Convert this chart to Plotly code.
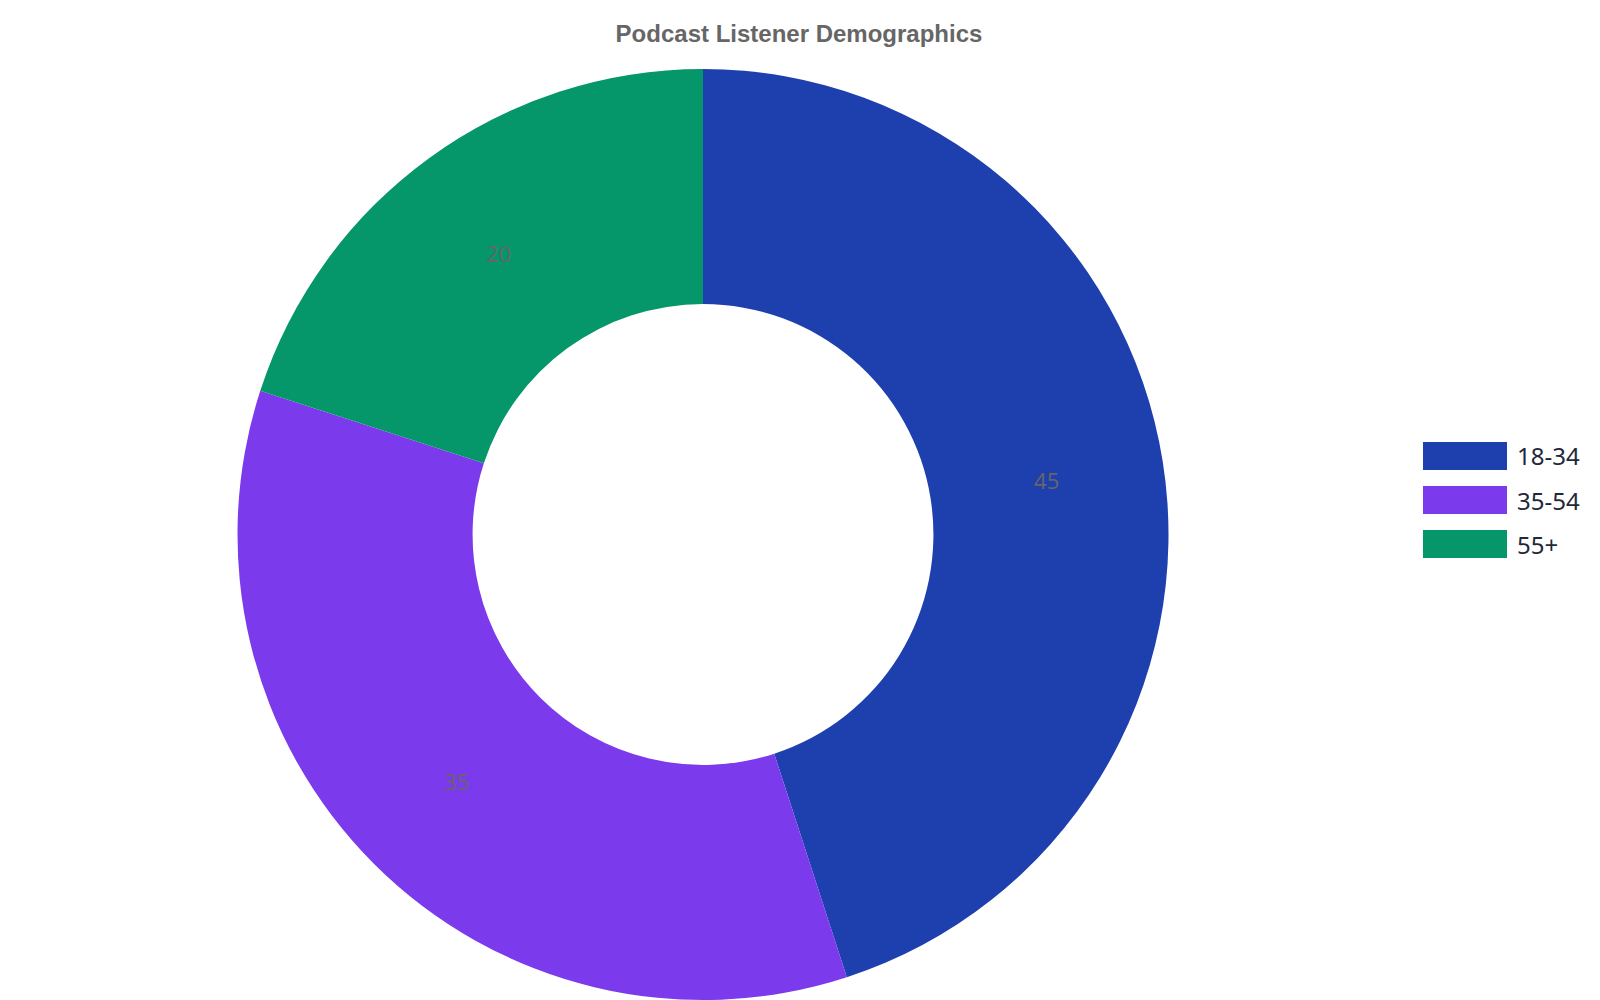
import plotly.graph_objects as go

# podcast listeners by age group (share, %)
age_groups = ["18-34", "35-54", "55+"]
listeners = [45, 35, 20]
colors = ["#1e40af", "#7c3aed", "#059669"]

W, H = 1600, 1000


def px(x):
    return x / W


def py(y):
    return (H - y) / H


fig = go.Figure()
fig.add_trace(go.Pie(
    labels=age_groups,
    values=listeners,
    hole=0.495,
    sort=False,
    direction="clockwise",
    rotation=0,
    marker=dict(colors=colors, line=dict(width=0)),
    textinfo="value",
    textposition="inside",
    insidetextorientation="horizontal",
    textfont=dict(family="Open Sans", size=22, color="#666666"),
    domain=dict(x=[0, px(1390)], y=[py(992), py(61)]),
    showlegend=False,
))

# legend drawn by hand to get the wide swatches
shapes = []
annotations = []
for i, (lab, col) in enumerate(zip(age_groups, colors)):
    top = 434 + i * 44
    shapes.append(dict(
        type="rect", xref="paper", yref="paper",
        x0=px(1415), x1=px(1499),
        y0=py(top), y1=py(top + 28),
        fillcolor=col, line=dict(width=0),
    ))
    annotations.append(dict(
        text=lab, xref="paper", yref="paper",
        x=px(1507), y=py(top + 14),
        xanchor="left", yanchor="middle", showarrow=False,
        font=dict(family="Noto Sans", size=24, color="#1f2937"),
    ))

fig.update_layout(
    width=W, height=H,
    title=dict(
        text="<b>Podcast Listener Demographics</b>",
        x=791 / W, xref="container", xanchor="center",
        y=1 - 25.5 / H, yref="container", yanchor="middle",
        font=dict(family="Liberation Sans", size=24, color="#666666"),
    ),
    margin=dict(l=0, r=0, t=0, b=0),
    paper_bgcolor="white",
    plot_bgcolor="white",
    shapes=shapes,
    annotations=annotations,
)

fig.write_html("out.html")
